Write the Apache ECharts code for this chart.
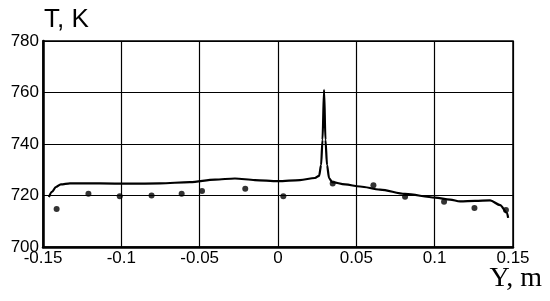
<!DOCTYPE html>
<html style="height: 100%">
<head>
<meta charset="utf-8">
</head>
<body style="height: 100%; margin: 0; background: #fff">
<div id="container" style="width: 550px; height: 301px"></div>
<script src="https://cdn.jsdelivr.net/npm/echarts@6/dist/echarts.min.js"></script>
<script>
// calculated curve, Y [m] vs T [K]
var curveY = [-0.1462, -0.1443, -0.1418, -0.1386, -0.1328, -0.1137, -0.0945, -0.0754, -0.0562, -0.0402,
    -0.0275, -0.0147, 0, 0.014, 0.0236, 0.0262, 0.0275, 0.0284, 0.0294, 0.0303, 0.0313, 0.0326, 0.0345,
    0.0428, 0.0524, 0.0651, 0.0811, 0.1003, 0.1098, 0.1162, 0.1258, 0.1354, 0.1418, 0.1462, 0.1469];
var curveT = [719.4, 721.4, 723.3, 724.3, 724.7, 724.7, 724.6, 724.7, 725.2, 726.2,
    726.6, 726.0, 725.6, 726.0, 726.8, 727.6, 731.8, 741.6, 761, 741.6, 731.8, 726.8, 725.2,
    724.3, 723.5, 722.3, 720.6, 719.2, 718.4, 717.7, 717.9, 718.1, 716.3, 713.2, 711.3];

// measured points
var measY = [-0.1413, -0.121, -0.101, -0.0807, -0.0615, -0.0485, -0.0209, 0.0034, 0.0349, 0.0609,
    0.0811, 0.106, 0.1254, 0.1455];
var measT = [714.8, 720.7, 719.7, 720, 720.7, 721.7, 722.6, 719.7, 724.7, 724,
    719.5, 717.6, 715.1, 714.4];

var xTicks = [-0.15, -0.1, -0.05, 0, 0.05, 0.1, 0.15];
var yTicks = [700, 720, 740, 760, 780];

var dom = document.getElementById('container');
var myChart = echarts.init(dom);

function pairs(xs, ys) {
    return xs.map(function (x, i) { return [x, ys[i]]; });
}

var option = {
    animation: false,
    backgroundColor: '#fff',
    // x axis title sits under the right end of the axis
    title: {
        text: 'Y, m',
        right: 8,
        top: 265,
        padding: 0,
        textStyle: {
            fontFamily: 'Liberation Serif',
            fontSize: 28,
            fontWeight: 'normal',
            color: '#000'
        }
    },
    grid: {
        left: 43,
        right: 37,
        top: 41,
        bottom: 54,
        containLabel: false,
        outerBoundsMode: 'none',
        show: true,
        borderColor: '#000',
        borderWidth: 1.5
    },
    xAxis: {
        type: 'value',
        min: xTicks[0],
        max: xTicks[xTicks.length - 1],
        interval: 0.05,
        axisLine: { onZero: false, lineStyle: { color: '#000', width: 2.5 } },
        axisTick: { show: false },
        splitLine: { lineStyle: { color: '#000', width: 1.2 } },
        axisLabel: {
            color: '#000',
            fontFamily: 'Liberation Sans',
            fontSize: 17,
            margin: 3,
            formatter: function (v) {
                return String(Math.round(v * 100) / 100);
            }
        }
    },
    yAxis: {
        type: 'value',
        min: yTicks[0],
        max: yTicks[yTicks.length - 1],
        interval: 20,
        name: 'T, K',
        nameLocation: 'end',
        nameGap: 4,
        nameTextStyle: {
            fontFamily: 'Liberation Sans',
            fontSize: 26,
            color: '#000',
            align: 'left',
            padding: [0, 0, 0, 1]
        },
        axisLine: { show: true, onZero: false, lineStyle: { color: '#000', width: 2.5 } },
        axisTick: { show: false },
        splitLine: { lineStyle: { color: '#000', width: 1.2 } },
        axisLabel: {
            color: '#000',
            fontFamily: 'Liberation Sans',
            fontSize: 17,
            margin: 4
        }
    },
    series: [{
        type: 'line',
        data: pairs(curveY, curveT),
        smooth: 0.3,
        smoothMonotone: 'x',
        showSymbol: false,
        lineStyle: { color: '#000', width: 2.2 },
        z: 3
    }, {
        type: 'scatter',
        data: pairs(measY, measT),
        symbolSize: 6,
        itemStyle: { color: '#000' },
        z: 4
    }]
};

myChart.setOption(option);
</script>
</body>
</html>
